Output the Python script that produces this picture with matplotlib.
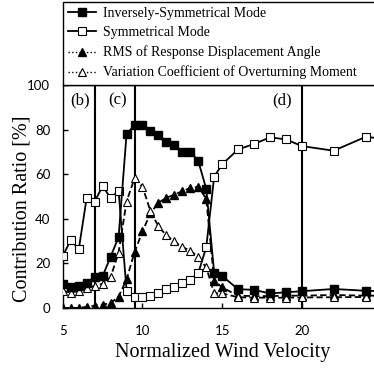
import matplotlib
matplotlib.use("Agg")
import matplotlib.pyplot as plt
from matplotlib.lines import Line2D

# wind velocity samples
velocity = [5, 5.5, 6, 6.5, 7, 7.5, 8, 8.5, 9, 9.5, 10, 10.5, 11, 11.5, 12, 12.5,
            13, 13.5, 14, 14.5, 15, 16, 17, 18, 19, 20, 22, 24, 25]

inverse_mode = [10.8, 9.6, 9.8, 11.3, 13.9, 14.3, 23.0, 31.8, 78.0, 82.0, 82.0, 79.5,
                77.6, 74.3, 73.0, 70.1, 70.1, 65.9, 53.4, 15.8, 14.3, 8.4, 8.1, 6.5,
                7.0, 7.5, 8.5, 7.7, 7.5]
sym_mode = [23.3, 30.5, 26.3, 49.5, 47.7, 54.7, 49.2, 52.6, 7.8, 4.8, 5.1, 5.4, 6.6,
            8.5, 9.6, 11.1, 12.6, 15.6, 27.2, 58.9, 64.4, 71.1, 73.5, 76.5, 75.6, 72.6,
            70.5, 76.7, 76.0]
rms_angle = [0, 0, 0, 0.5, 1.0, 1.5, 2.1, 5.1, 12.8, 25.0, 34.3, 42.5, 47.2, 49.4,
             50.8, 52.4, 53.8, 54.3, 49.0, 12.2, 9.2, 5.5, 5.3, 5.3, 5.5, 5.5, 5.8,
             5.5, 5.5]
var_moment = [7.6, 6.9, 7.6, 8.8, 9.9, 10.8, 13.8, 24.8, 47.7, 58.2, 54.4, 43.4, 36.6,
              32.5, 29.8, 27.3, 25.7, 22.8, 18.2, 6.6, 6.5, 4.8, 4.6, 4.6, 4.6, 4.7,
              4.8, 4.9, 4.9]

region_lines = [7, 9.5, 20]
region_labels = ["(b)", "(c)", "(d)"]
region_label_x = [6.1, 8.45, 18.75]

labels = ["Inversely-Symmetrical Mode", "Symmetrical Mode",
          "RMS of Response Displacement Angle",
          "Variation Coefficient of Overturning Moment"]

serif = "Liberation Serif"
sans = "Lato"

fig = plt.figure(figsize=(3.74, 3.71), dpi=100)
ax = fig.add_axes([0.168, 0.170, 0.852, 0.601])

ms = 5.5
dash = (0, (3.5, 1.8))
ax.plot(velocity, rms_angle, color="black", lw=1.3, ls=dash, marker="^", ms=ms,
        mfc="black", mec="black", zorder=3)
ax.plot(velocity, var_moment, color="black", lw=1.3, ls=dash, marker="^", ms=ms,
        mfc="white", mec="black", mew=0.8, zorder=3)
ax.plot(velocity, sym_mode, color="black", lw=1.3, marker="s", ms=ms,
        mfc="white", mec="black", mew=0.8, zorder=4)
ax.plot(velocity, inverse_mode, color="black", lw=1.3, marker="s", ms=ms,
        mfc="black", mec="black", zorder=4)

for xv in region_lines:
    ax.axvline(xv, color="black", lw=1.5, zorder=2)
for xt, lab in zip(region_label_x, region_labels):
    ax.text(xt, 93, lab, ha="center", va="center", fontsize=12, family=serif)

ax.set_xlim(5, 25)
ax.set_ylim(0, 100)
ax.set_xticks([5, 10, 15, 20, 25])
ax.set_yticks([0, 20, 40, 60, 80, 100])
ax.tick_params(direction="in", length=3.5, width=1, labelsize=9.5)
ax.tick_params(axis="x", pad=12)
ax.tick_params(axis="y", pad=9)
for t in ax.get_xticklabels() + ax.get_yticklabels():
    t.set_family(sans)
for sp in ax.spines.values():
    sp.set_linewidth(1)

ax.set_xlabel("Normalized Wind Velocity", fontsize=14.5, family=serif)
ax.set_ylabel("Contribution Ratio [%]", fontsize=14.5, family=serif)
ax.xaxis.set_label_coords(0.502, -0.157)
ax.yaxis.set_label_coords(-0.097, 0.444)

# legend uses dotted lines for the triangle series
handles = [
    Line2D([], [], color="black", lw=1.3, marker="s", ms=ms, mfc="black"),
    Line2D([], [], color="black", lw=1.3, marker="s", ms=ms, mfc="white", mew=0.8),
    Line2D([], [], color="black", lw=1.0, ls=":", marker="^", ms=ms, mfc="black"),
    Line2D([], [], color="black", lw=1.0, ls=":", marker="^", ms=ms, mfc="white", mew=0.8),
]
leg = ax.legend(handles, labels, loc="lower left", bbox_to_anchor=(0, 1, 1, 0.1),
                mode="expand", borderaxespad=0, fancybox=False, framealpha=1,
                edgecolor="black", prop={"family": serif, "size": 10},
                handlelength=2.0, handletextpad=0.5, labelspacing=0.45,
                borderpad=0.4)
leg.get_frame().set_linewidth(1)

fig.savefig("out.png", dpi=100)
